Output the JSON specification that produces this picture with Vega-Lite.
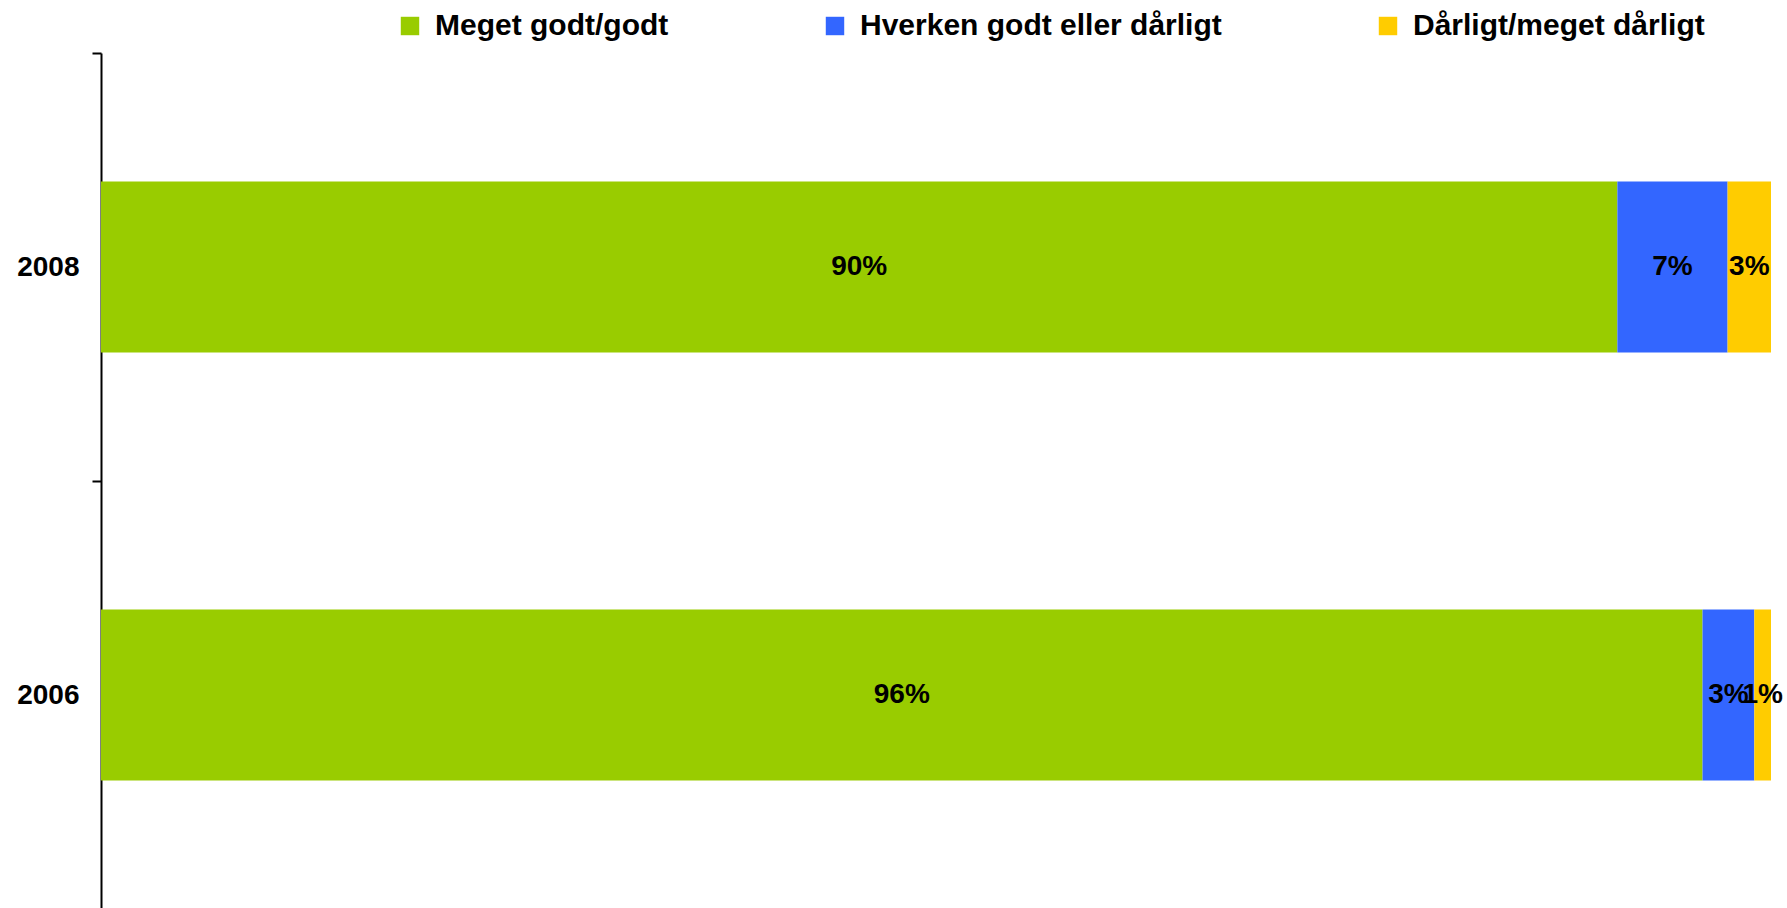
{
  "$schema": "https://vega.github.io/schema/vega-lite/v6.json",
  "autosize": "none",
  "width": 1670,
  "height": 856,
  "padding": {"left": 101, "top": 53, "right": 16, "bottom": 0},
  "background": "white",
  "config": {
    "view": {"stroke": null},
    "font": "Liberation Sans"
  },
  "data": {
    "values": [
      {"year": "2008", "category": "Meget godt/godt", "value": 90.8, "label": "90%", "rank": 1},
      {"year": "2008", "category": "Hverken godt eller dårligt", "value": 6.6, "label": "7%", "rank": 2},
      {"year": "2008", "category": "Dårligt/meget dårligt", "value": 2.6, "label": "3%", "rank": 3},
      {"year": "2006", "category": "Meget godt/godt", "value": 95.9, "label": "96%", "rank": 1},
      {"year": "2006", "category": "Hverken godt eller dårligt", "value": 3.1, "label": "3%", "rank": 2},
      {"year": "2006", "category": "Dårligt/meget dårligt", "value": 1.0, "label": "1%", "rank": 3}
    ]
  },
  "transform": [
    {"stack": "value", "groupby": ["year"], "sort": [{"field": "rank", "order": "ascending"}], "as": ["x0", "x1"]},
    {"calculate": "(datum.x0 + datum.x1) / 2", "as": "xmid"}
  ],
  "encoding": {
    "y": {
      "field": "year",
      "type": "nominal",
      "sort": ["2008", "2006"],
      "scale": {"paddingInner": 0, "paddingOuter": 0},
      "axis": {
        "title": null,
        "domainColor": "black",
        "domainWidth": 2,
        "tickColor": "black",
        "tickWidth": 2,
        "tickSize": 9,
        "tickBand": "extent",
        "labelFontSize": 28,
        "labelFontWeight": "bold",
        "labelColor": "black",
        "labelPadding": 13,
        "grid": false
      }
    }
  },
  "layer": [
    {
      "mark": {"type": "bar", "height": {"band": 0.4}},
      "encoding": {
        "x": {"field": "x0", "type": "quantitative", "scale": {"domain": [0, 100], "nice": false}, "axis": null},
        "x2": {"field": "x1"},
        "color": {
          "field": "category",
          "type": "nominal",
          "scale": {
            "domain": ["Meget godt/godt", "Hverken godt eller dårligt", "Dårligt/meget dårligt"],
            "range": ["#99CC00", "#3366FF", "#FFCC00"]
          },
          "legend": {
            "title": null,
            "orient": "none",
            "direction": "horizontal",
            "legendX": 294,
            "legendY": -42,
            "padding": 0,
            "columnPadding": 151,
            "symbolType": "square",
            "symbolSize": 340,
            "symbolStrokeWidth": 0,
            "symbolOpacity": 1,
            "labelOffset": 10,
            "labelFontSize": 30,
            "labelFontWeight": "bold",
            "labelColor": "black",
            "labelLimit": 1000
          }
        }
      }
    },
    {
      "mark": {"type": "text", "fontSize": 28, "fontWeight": "bold", "color": "black", "baseline": "middle", "align": "center"},
      "encoding": {
        "x": {"field": "xmid", "type": "quantitative"},
        "text": {"field": "label"}
      }
    }
  ]
}
